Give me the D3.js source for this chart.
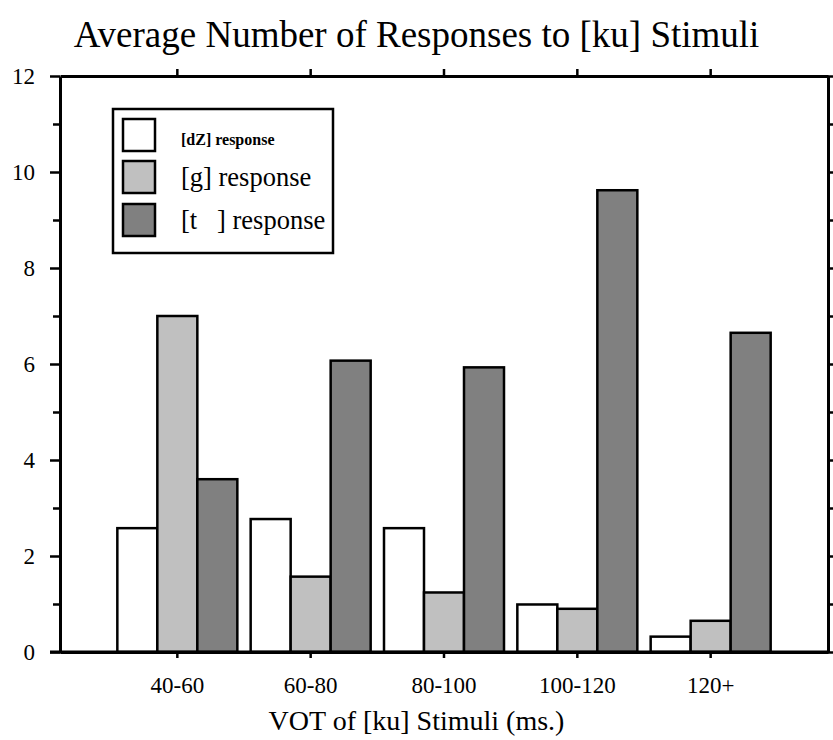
<!DOCTYPE html>
<html>
<head>
<meta charset="utf-8">
<script src="https://cdn.jsdelivr.net/npm/d3@7"></script>
<style>
  html, body { margin: 0; padding: 0; background: #fff; }
  svg { display: block; }
  svg text { font-family: "Liberation Serif", Times, "Times New Roman", "DejaVu Serif", serif !important; fill: #000; }
</style>
</head>
<body>
<svg id="chart" width="833" height="740"></svg>
<script>
// Stimulus VOT bins
const categories = ["40-60", "60-80", "80-100", "100-120", "120+"];
// Series names as shown in the key
const seriesNames = ["[dZ] response", "[g] response", "[t   ] response"];
// Average number of responses per bin
const dzValues = [2.58, 2.77, 2.58, 0.99, 0.32];
const gValues  = [7.0, 1.57, 1.24, 0.90, 0.65];
const tValues  = [3.6, 6.07, 5.93, 9.62, 6.65];
const seriesValues = [dzValues, gValues, tValues];
const seriesColors = ["#ffffff", "#c0c0c0", "#808080"];
const majorTicks = [0, 2, 4, 6, 8, 10, 12];
const minorTicks = [1, 3, 5, 7, 9, 11];

const FONT = "'Liberation Serif', Times, 'Times New Roman', 'DejaVu Serif', serif";

const svg = d3.select("#chart");
const margin = { left: 60, right: 5, top: 76, bottom: 88 };
const W = 833, H = 740;
const plotL = margin.left, plotR = W - margin.right;
const plotT = margin.top, plotB = H - margin.bottom;

const x = d3.scaleBand()
  .domain(categories)
  .range([plotL, plotR])
  .paddingInner(0.1)
  .paddingOuter(0.43);

const xs = d3.scaleBand()
  .domain(d3.range(seriesValues.length))
  .range([0, x.bandwidth()]);

const y = d3.scaleLinear().domain([0, 12]).range([plotB, plotT]);

// Bars
const rows = categories.map((c, i) => ({
  cat: c,
  vals: seriesValues.map((s, k) => ({ k, v: s[i] }))
}));

svg.append("g").selectAll("g")
  .data(rows)
  .join("g")
  .attr("transform", d => `translate(${x(d.cat)},0)`)
  .selectAll("rect")
  .data(d => d.vals)
  .join("rect")
  .attr("x", d => xs(d.k))
  .attr("width", xs.bandwidth())
  .attr("y", d => y(d.v))
  .attr("height", d => y(0) - y(d.v))
  .attr("fill", d => seriesColors[d.k])
  .attr("stroke", "#000")
  .attr("stroke-width", 2.5);

// Axes
function styleAxis(g, lw) {
  g.attr("font-family", FONT);
  g.select(".domain").attr("stroke", "#000").attr("stroke-width", lw);
  g.selectAll(".tick line").attr("stroke", "#000").attr("stroke-width", 2.5);
  g.selectAll("text").attr("font-family", FONT).attr("font-size", 23);
}

// left: major labelled, minor short
svg.append("g").attr("transform", `translate(${plotL},0)`)
  .call(d3.axisLeft(y).tickValues(majorTicks).tickSize(10).tickSizeOuter(0).tickPadding(15).tickFormat(d3.format("d")))
  .call(g => styleAxis(g, 3));
svg.append("g").attr("transform", `translate(${plotL},0)`)
  .call(d3.axisLeft(y).tickValues(minorTicks).tickSize(7).tickSizeOuter(0).tickFormat(""))
  .call(g => { styleAxis(g, 3); g.select(".domain").remove(); });

// right
svg.append("g").attr("transform", `translate(${plotR},0)`)
  .call(d3.axisRight(y).tickValues(majorTicks).tickSize(10).tickSizeOuter(0).tickFormat(""))
  .call(g => styleAxis(g, 3));
svg.append("g").attr("transform", `translate(${plotR},0)`)
  .call(d3.axisRight(y).tickValues(minorTicks).tickSize(7).tickSizeOuter(0).tickFormat(""))
  .call(g => { styleAxis(g, 3); g.select(".domain").remove(); });

// bottom
svg.append("g").attr("transform", `translate(0,${plotB})`)
  .call(d3.axisBottom(x).tickSize(6).tickSizeOuter(0).tickPadding(19))
  .call(g => styleAxis(g, 3));

// top
svg.append("g").attr("transform", `translate(0,${plotT})`)
  .call(d3.axisTop(x).tickSize(7).tickSizeOuter(0).tickFormat(""))
  .call(g => styleAxis(g, 3));

// extend the bottom line under the "0" tick
svg.append("line")
  .attr("x1", plotL - 10).attr("x2", plotR)
  .attr("y1", y(0)).attr("y2", y(0))
  .attr("stroke", "#000").attr("stroke-width", 3);

// Titles
svg.append("text")
  .attr("x", W / 2).attr("y", 47)
  .attr("text-anchor", "middle")
  .attr("font-family", FONT)
  .attr("font-size", 37)
  .text("Average Number of Responses to [ku] Stimuli");

svg.append("text")
  .attr("x", W / 2).attr("y", 730)
  .attr("text-anchor", "middle")
  .attr("font-family", FONT)
  .attr("font-size", 28)
  .text("VOT of [ku] Stimuli (ms.)");

// Key
const key = svg.append("g").attr("transform", "translate(113,109)");
key.append("rect")
  .attr("width", 220).attr("height", 144)
  .attr("fill", "#fff").attr("stroke", "#000").attr("stroke-width", 2.5);

const keyRowY = [10, 52, 95];
const keyFont = [{ size: 16, weight: "bold" }, { size: 26.5, weight: "normal" }, { size: 26.5, weight: "normal" }];
const keyItems = key.selectAll("g.item")
  .data(seriesNames)
  .join("g")
  .attr("class", "item")
  .attr("transform", (d, i) => `translate(10,${keyRowY[i]})`);
keyItems.append("rect")
  .attr("width", 32).attr("height", 32)
  .attr("fill", (d, i) => seriesColors[i])
  .attr("stroke", "#000").attr("stroke-width", 2.5);
keyItems.append("text")
  .attr("x", 58)
  .attr("y", (d, i) => i === 0 ? 26 : 25)
  .attr("font-family", FONT)
  .attr("font-size", (d, i) => keyFont[i].size)
  .attr("font-weight", (d, i) => keyFont[i].weight)
  .style("white-space", "pre")
  .text(d => d);
</script>
</body>
</html>
